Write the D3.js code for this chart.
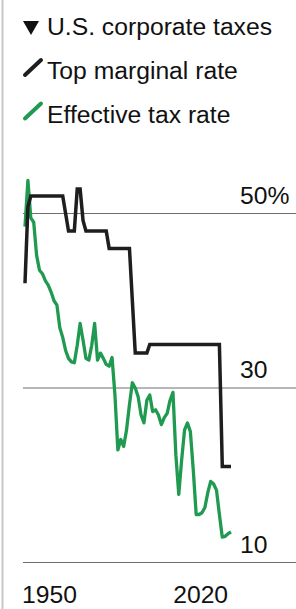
<!DOCTYPE html>
<html>
<head>
<meta charset="utf-8">
<script src="https://cdn.jsdelivr.net/npm/d3@7"></script>
<style>
  html, body { margin: 0; padding: 0; background: #fff; }
  svg { display: block; font-family: "Liberation Sans", Arial, Helvetica, sans-serif; }
</style>
</head>
<body>
<svg id="chart" width="296" height="609"></svg>
<script>
// U.S. corporate taxes, 1950-2021
const years = d3.range(1950, 2022);

const topMarginalRate = [
  42, 50.75, 52, 52, 52, 52, 52, 52, 52, 52,
  52, 52, 52, 52, 50, 48, 48, 48, 52.8, 52.8,
  49.2, 48, 48, 48, 48, 48, 48, 48, 48, 46,
  46, 46, 46, 46, 46, 46, 46, 40, 34, 34,
  34, 34, 34, 35, 35, 35, 35, 35, 35, 35,
  35, 35, 35, 35, 35, 35, 35, 35, 35, 35,
  35, 35, 35, 35, 35, 35, 35, 35, 21, 21,
  21, 21
];

const effectiveRate = [
  48.5, 53.8, 49.5, 49, 45.2, 43.5, 43.1, 42.3, 41.8, 41,
  40, 39.5, 36.9, 35.8, 34.3, 33.4, 33, 32.9, 34.9, 37.4,
  35.5, 33.4, 33.2, 34.9, 37.4, 33.2, 34, 33.4, 32.7, 32.5,
  33.5, 29.2, 22.9, 24.1, 23.3, 25.2, 28.1, 30.6, 30, 29,
  26.9, 26, 28.6, 29.2, 27.3, 27.5, 26.9, 25.8, 26.6, 27.1,
  28.6, 29.5, 22.3, 17.8, 21.8, 25.2, 26, 25, 20.6, 15.5,
  15.5, 15.7, 16.3, 18, 19.3, 19, 18.3, 15.5, 12.9, 13,
  13.3, 13.5
];

const yTicks = [50, 30, 10];
const xTicks = [1950, 2020];

const legendItems = [
  {label: 'Top marginal rate', color: '#1e1e1e'},
  {label: 'Effective tax rate', color: '#1f9a50'}
];

const fontSize = 24.7;

const svg = d3.select('#chart');

const x = d3.scaleLinear()
    .domain([1950, 2021])
    .range([25, 231]);

const y = d3.scaleLinear()
    .domain([10, 50])
    .range([562.5, 213.5]);

// left rule
svg.append('line')
    .attr('x1', 2.5).attr('x2', 2.5)
    .attr('y1', 0).attr('y2', 609)
    .attr('stroke', '#c8c8c8')
    .attr('stroke-width', 2);

// legend
svg.append('path')
    .attr('d', 'M23,21L39,21L31,35Z')
    .attr('fill', '#111');

svg.append('text')
    .attr('x', 47).attr('y', 35)
    .attr('font-size', fontSize)
    .attr('fill', '#111')
    .text('U.S. corporate taxes');

const legend = svg.selectAll('g.legend')
    .data(legendItems)
    .enter().append('g')
    .attr('class', 'legend')
    .attr('transform', function(d, i) { return 'translate(0,' + (79 + i * 43.5) + ')'; });

legend.append('line')
    .attr('x1', 25).attr('y1', -4)
    .attr('x2', 41).attr('y2', -19)
    .attr('stroke', function(d) { return d.color; })
    .attr('stroke-width', 4)
    .attr('stroke-linecap', 'round');

legend.append('text')
    .attr('x', 47).attr('y', 0)
    .attr('font-size', fontSize)
    .attr('fill', '#111')
    .text(function(d) { return d.label; });

// grid + y labels
svg.selectAll('line.grid')
    .data(yTicks)
    .enter().append('line')
    .attr('class', 'grid')
    .attr('x1', 23).attr('x2', 296)
    .attr('y1', function(d) { return y(d); })
    .attr('y2', function(d) { return y(d); })
    .attr('stroke', '#6e6e6e')
    .attr('stroke-width', 1);

svg.selectAll('text.ylab')
    .data(yTicks)
    .enter().append('text')
    .attr('class', 'ylab')
    .attr('x', 240)
    .attr('y', function(d) { return y(d) - 10; })
    .attr('font-size', fontSize)
    .attr('fill', '#111')
    .text(function(d, i) { return i === 0 ? d + '%' : d; });

// x labels, first one left aligned, last one right aligned
svg.selectAll('text.xlab')
    .data(xTicks)
    .enter().append('text')
    .attr('class', 'xlab')
    .attr('x', function(d, i) { return i === 0 ? x(d) - 3 : x(d); })
    .attr('y', 603)
    .attr('text-anchor', function(d, i) { return i === 0 ? 'start' : 'end'; })
    .attr('font-size', fontSize)
    .attr('fill', '#111')
    .text(function(d) { return d; });

const line = d3.line()
    .x(function(d) { return x(d[0]); })
    .y(function(d) { return y(d[1]); });

svg.append('path')
    .datum(d3.zip(years, effectiveRate))
    .attr('fill', 'none')
    .attr('stroke', legendItems[1].color)
    .attr('stroke-width', 3.3)
    .attr('stroke-linejoin', 'round')
    .attr('d', line);

svg.append('path')
    .datum(d3.zip(years, topMarginalRate))
    .attr('fill', 'none')
    .attr('stroke', legendItems[0].color)
    .attr('stroke-width', 3.5)
    .attr('d', line);
</script>
</body>
</html>
